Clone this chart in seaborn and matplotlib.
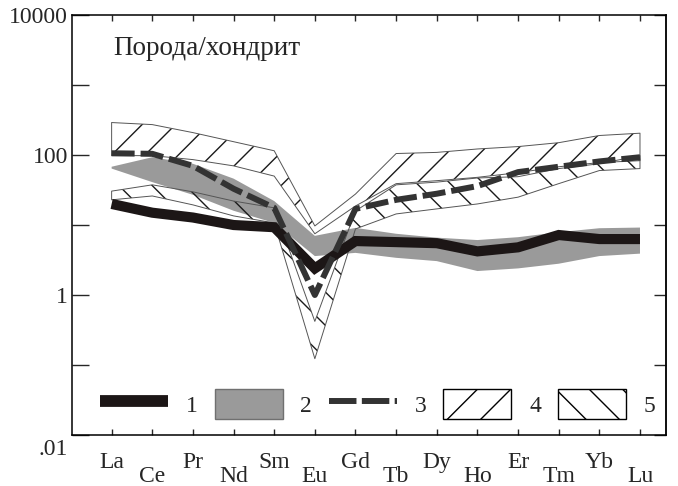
import numpy as np
import pandas as pd
import matplotlib.pyplot as plt
import seaborn as sns
from matplotlib.patches import Patch
from matplotlib.lines import Line2D
from matplotlib.ticker import FixedLocator, NullLocator

plt.switch_backend('Agg')

elements = ['La', 'Ce', 'Pr', 'Nd', 'Sm', 'Eu', 'Gd', 'Tb', 'Dy', 'Ho', 'Er', 'Tm', 'Yb', 'Lu']

# 1 - thick black line
line1 = [20, 15, 12.8, 10, 9.3, 2.4, 5.9, 5.7, 5.5, 4.2, 4.8, 7.2, 6.3, 6.3]
# 2 - gray field
field2_hi = [68, 93, 75, 46, 22, 7.0, 9.1, 7.5, 6.6, 6.1, 6.7, 7.9, 9.0, 9.2]
field2_lo = [64, 41, 27, 16, 10.7, 3.6, 4.0, 3.4, 3.05, 2.2, 2.4, 2.8, 3.6, 3.9]
# 3 - dashed line
line3 = [106, 104, 70, 33, 17.6, 1.0, 17, 22.9, 28, 36, 57, 68, 81, 93]
# 4 - field hatched "/"
field4_hi = [291, 272, 209, 155, 115, 9.7, 27.7, 105, 109, 122, 132, 150, 190, 205]
field4_lo = [98, 98, 86, 70, 50, 7.5, 18.7, 39, 43, 48, 56, 68, 78, 83]
# 5 - field hatched "\"
field5_hi = [30.5, 37.5, 29.8, 22, 17.6, 0.42, 15.9, 37.5, 41, 47, 49, 64, 75, 98]
field5_lo = [22.9, 26, 19.4, 13.5, 10.7, 0.123, 8.8, 14.4, 17, 20, 25, 39, 60, 64]

legend_labels = ['1', '2', '3', '4', '5']
decades = [0.01, 0.1, 1, 10, 100, 1000, 10000]
decade_labels = ['', '', '1', '', '100', '', '10000']

sns.set_style('ticks')
plt.rcParams['font.family'] = ['Liberation Serif', 'DejaVu Serif']
plt.rcParams['hatch.linewidth'] = 1.0

pos = np.arange(len(elements))
df = pd.DataFrame({'pos': pos, 'line1': line1, 'line3': line3})

fig = plt.figure(figsize=(6.78, 4.86), dpi=100)
ax = fig.add_axes([0.1062, 0.1049, 0.8761, 0.8642])

gray = '#9a9a9a'
ax.fill_between(pos, field2_lo, field2_hi, facecolor=gray, edgecolor='none', zorder=1)

# hatched fields: hatch first, then thin outline
ax.fill_between(pos, field4_lo, field4_hi, facecolor='none', edgecolor='#1a1a1a',
                linewidth=0, hatch='/', zorder=2)
ax.fill_between(pos, field4_lo, field4_hi, facecolor='none', edgecolor='#555555',
                linewidth=0.7, zorder=2)
ax.fill_between(pos, field5_lo, field5_hi, facecolor='none', edgecolor='#1a1a1a',
                linewidth=0, hatch='\\', zorder=2)
ax.fill_between(pos, field5_lo, field5_hi, facecolor='none', edgecolor='#555555',
                linewidth=0.7, zorder=2)

sns.lineplot(data=df, x='pos', y='line1', ax=ax, color='#1c1616', linewidth=7.3,
             solid_capstyle='butt', solid_joinstyle='miter', zorder=3)
sns.lineplot(data=df, x='pos', y='line3', ax=ax, color='#333333', linewidth=4.3,
             linestyle=(0, (3.85, 1.0)), dash_capstyle='butt', zorder=4)

ax.set_yscale('log')
ax.set_ylim(0.01, 10000)
ax.set_xlim(-0.975, 13.64)
ax.set_xlabel('')
ax.set_ylabel('')

# y ticks: every decade, labels on even ones
ax.yaxis.set_major_locator(FixedLocator(decades))
ax.yaxis.set_minor_locator(NullLocator())
ax.set_yticklabels(decade_labels)
ax.tick_params(axis='y', which='major', direction='in', length=12, width=1.0,
               labelsize=17, pad=3, right=False)
ax.annotate('.01', xy=(0, 0.01), xycoords=('axes fraction', 'data'),
            xytext=(-3, -8.5), textcoords='offset points',
            ha='right', va='center_baseline', fontsize=17)

sec = ax.secondary_yaxis('right')
sec.yaxis.set_major_locator(FixedLocator(decades))
sec.yaxis.set_minor_locator(NullLocator())
sec.tick_params(direction='in', length=9, width=1.0, labelright=False)
sec.spines['right'].set_linewidth(1.1)

# x ticks: staggered labels (major = upper row, minor = lower row)
ax.set_xticks(pos[::2], elements[::2])
ax.set_xticks(pos[1::2], elements[1::2], minor=True)
ax.tick_params(axis='x', which='both', direction='in', length=4.3, width=1.0,
               top=True, labelsize=17)
ax.tick_params(axis='x', which='major', pad=12.5)
ax.tick_params(axis='x', which='minor', pad=22.5)

for s in ax.spines.values():
    s.set_linewidth(1.1)
    s.set_color('black')

ax.text(0.069, 0.905, 'Порода/хондрит', transform=ax.transAxes,
        fontsize=19.5, ha='left', va='baseline')

handles = [
    Line2D([], [], color='#1c1616', linewidth=8.5, solid_capstyle='butt'),
    Patch(facecolor=gray, edgecolor='#707070', linewidth=1.0),
    Line2D([], [], color='#333333', linewidth=4.3, linestyle=(0, (4.6, 0.9))),
    Patch(facecolor='white', edgecolor='black', linewidth=1.0, hatch='/'),
    Patch(facecolor='white', edgecolor='black', linewidth=1.0, hatch='\\'),
]
ax.legend(handles, legend_labels, ncol=5, loc='lower left', bbox_to_anchor=(0.047, 0.038),
          frameon=False, fontsize=17, handlelength=2.88, handleheight=1.57,
          handletextpad=0.75, columnspacing=0.72, borderpad=0, borderaxespad=0)

plt.savefig('out.png', dpi=100)
plt.close()
